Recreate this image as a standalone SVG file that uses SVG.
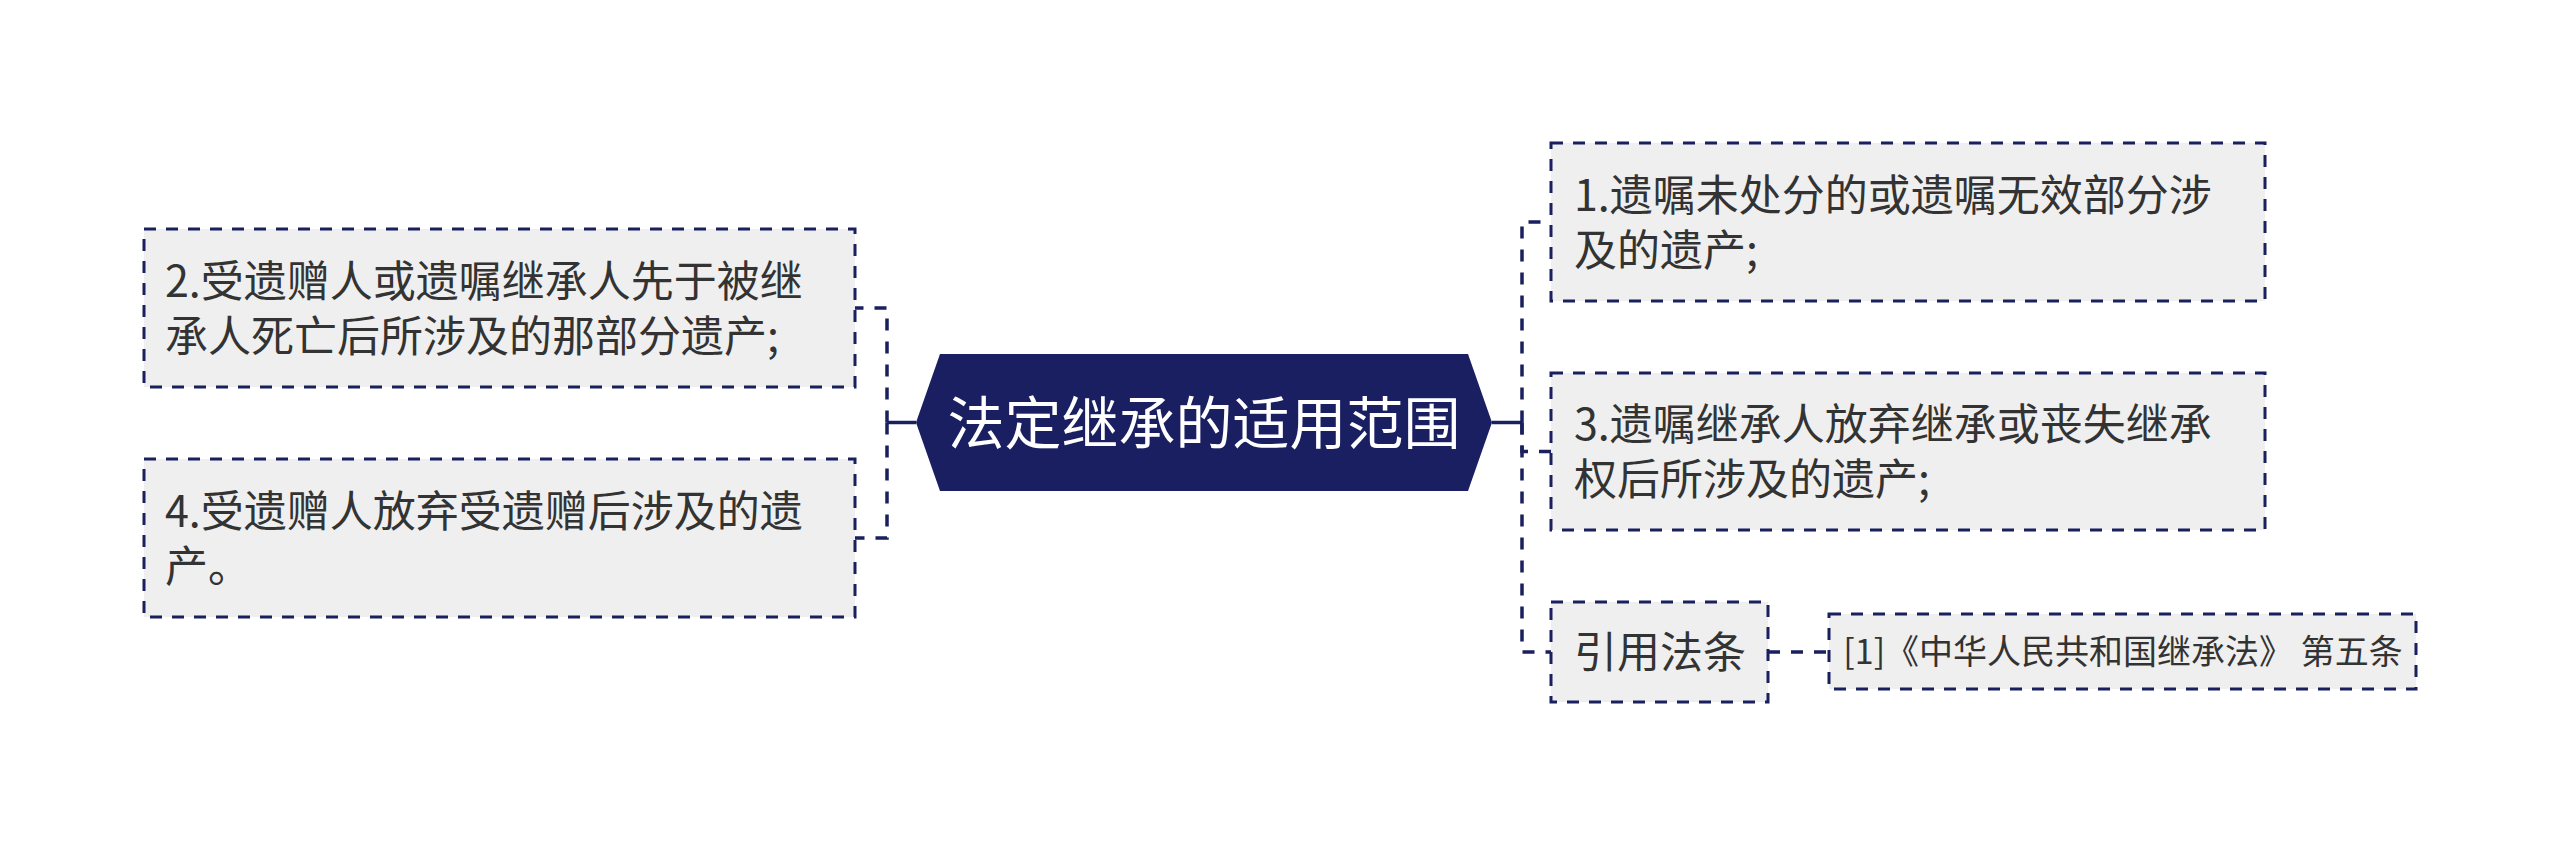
<svg xmlns="http://www.w3.org/2000/svg" width="2560" height="845" viewBox="0 0 2560 845">
<style>
.box{fill:#efefef;stroke:#1a1f5e;stroke-width:3;stroke-dasharray:12 10;}
.t{font-family:"Noto Sans CJK SC","Noto Sans",sans-serif;font-size:43px;fill:#333333;}
.ts{font-family:"Noto Sans CJK SC","Noto Sans",sans-serif;font-size:34px;fill:#333333;}
.tc{font-family:"Noto Sans CJK SC","Noto Sans",sans-serif;font-size:57px;fill:#ffffff;}
.c{fill:none;stroke:#1a1f5e;stroke-width:3.5;stroke-dasharray:12 11;}
.s{fill:none;stroke:#1a1f5e;stroke-width:3.5;}
</style>
<rect width="2560" height="845" fill="#ffffff"/>
<g id="connectors">
<path class="s" d="M916 422.5H887"/>
<path class="c" d="M887 422.5V308H855"/>
<path class="c" d="M887 422.5V538H855"/>
<path class="s" d="M1492 422.5H1522"/>
<path class="c" d="M1522 422.5V222H1551"/>
<path class="c" d="M1522 422.5V451.5H1551"/>
<path class="c" d="M1522 422.5V652H1551"/>
<path class="c" d="M1768 652H1829"/>
</g>
<g id="center">
<polygon points="916,422.5 940,354 1468,354 1492,422.5 1468,491 940,491" fill="#1a1f62"/>
<text class="tc" x="1204" y="444" text-anchor="middle">法定继承的适用范围</text>
</g>
<g id="node-left-1">
<rect class="box" x="144" y="229" width="711" height="158"/>
<text class="t" x="165" y="297">2.受遗赠人或遗嘱继承人先于被继</text>
<text class="t" x="165" y="352">承人死亡后所涉及的那部分遗产;</text>
</g>
<g id="node-left-2">
<rect class="box" x="144" y="459" width="711" height="158"/>
<text class="t" x="165" y="527">4.受遗赠人放弃受遗赠后涉及的遗</text>
<text class="t" x="165" y="582">产。</text>
</g>
<g id="node-right-1">
<rect class="box" x="1551" y="143" width="714" height="158"/>
<text class="t" x="1574" y="211">1.遗嘱未处分的或遗嘱无效部分涉</text>
<text class="t" x="1574" y="266">及的遗产;</text>
</g>
<g id="node-right-2">
<rect class="box" x="1551" y="373" width="714" height="157"/>
<text class="t" x="1574" y="440">3.遗嘱继承人放弃继承或丧失继承</text>
<text class="t" x="1574" y="495">权后所涉及的遗产;</text>
</g>
<g id="node-right-3">
<rect class="box" x="1551" y="602" width="217" height="100"/>
<text class="t" x="1660" y="668" text-anchor="middle">引用法条</text>
</g>
<g id="leaf">
<rect class="box" x="1829" y="614" width="587" height="75"/>
<text class="ts" x="2123" y="664" text-anchor="middle">[1]《中华人民共和国继承法》 第五条</text>
</g>
</svg>
